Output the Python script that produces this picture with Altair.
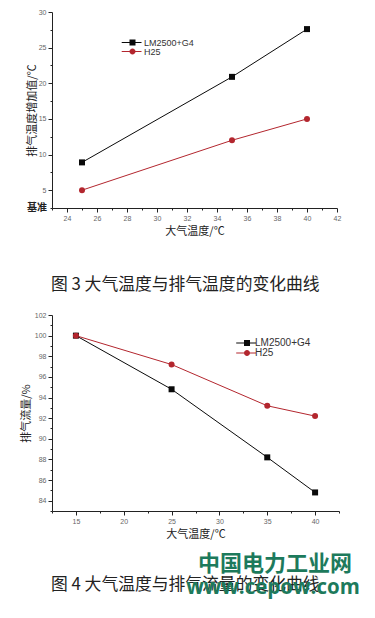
import altair as alt
import pandas as pd

# ---------------- data ----------------
series = ["LM2500+G4", "H25"]
colors = ["#0a0a0a", "#b3262e"]
shapes = ["square", "circle"]

# Fig. 3: exhaust temperature increase vs ambient temperature
f3_temp = [25, 35, 40]
f3_lm = [8.9, 20.9, 27.6]
f3_h25 = [5.0, 12.0, 15.0]
f3_xticks = [23, 24, 25, 26, 27, 28, 29, 30, 31, 32, 33, 34, 35, 36, 37, 38, 39, 40, 41, 42]
f3_yticks = [2.5, 5, 7.5, 10, 12.5, 15, 17.5, 20, 22.5, 25, 27.5, 30]

# Fig. 4: exhaust flow vs ambient temperature
f4_temp = [15, 25, 35, 40]
f4_lm = [100.0, 94.8, 88.2, 84.8]
f4_h25 = [100.0, 97.2, 93.2, 92.2]
f4_xticks = [12.5, 15, 17.5, 20, 22.5, 25, 27.5, 30, 32.5, 35, 37.5, 40, 42.5]
f4_yticks = [83, 84, 85, 86, 87, 88, 89, 90, 91, 92, 93, 94, 95, 96, 97, 98, 99, 100, 101, 102]

# legend glyphs: a thin filled bar (the line) plus the marker
legend_paths = [
    "M-3.6,-0.17H3V0.17H-3.6ZM-1,-1H1V1H-1Z",
    "M-3.6,-0.17H3V0.17H-3.6ZM1,0A1,1 0 1 1 -1,0A1,1 0 1 1 1,0Z",
]

captions = ["图 3 大气温度与排气温度的变化曲线", "图 4 大气温度与排气流量的变化曲线"]
watermark = ["中国电力工业网", "www.cepow.com"]

CJK = "Noto Sans CJK SC"
LAT = "Liberation Sans"


def long_df(temps, a, b):
    return pd.DataFrame({
        "t": temps * 2,
        "v": a + b,
        "s": [series[0]] * len(temps) + [series[1]] * len(temps),
    })


def axis(values, mod, title, tpad, **kw):
    return alt.Axis(
        values=values,
        labelExpr=f"datum.value % {mod} === 0 ? datum.label : ''",
        tickSize={"condition": {"test": f"datum.value % {mod} === 0", "value": 4}, "value": 2},
        title=title, titlePadding=tpad, grid=False,
        domainColor="#222", domainWidth=1, tickColor="#222", tickWidth=1,
        labelColor="#666", labelFontSize=7, labelFont=LAT, labelPadding=2,
        labelOverlap=False, labelFlush=False,
        titleFont=CJK, titleFontSize=11, titleFontWeight="normal", titleColor="#222",
        **kw,
    )


def panel(df, xdom, xticks, xmod, ydom, yticks, ymod, ytitle, ytpad,
          legx, legy, legfs, rowgap, laboff):
    x = alt.X("t:Q", scale=alt.Scale(domain=xdom, nice=False, zero=False),
              axis=axis(xticks, xmod, "大气温度/℃", 4))
    y = alt.Y("v:Q", scale=alt.Scale(domain=ydom, nice=False, zero=False),
              axis=axis(yticks, ymod, ytitle, ytpad))
    col = alt.Color("s:N", scale=alt.Scale(domain=series, range=colors), legend=None)

    line = alt.Chart(df).mark_line(strokeWidth=1).encode(x=x, y=y, color=col)
    pts = alt.Chart(df).mark_point(filled=True, opacity=1, size=36).encode(
        x=x, y=y, color=col,
        shape=alt.Shape("s:N", scale=alt.Scale(domain=series, range=shapes), legend=None),
    )
    layers = [line, pts]
    for i, name in enumerate(series):
        leg = alt.Legend(orient="none", legendX=legx, legendY=legy + i * rowgap, title=None,
                         symbolSize=36, symbolStrokeWidth=0,
                         symbolFillColor=colors[i], symbolStrokeColor=colors[i],
                         labelFont=LAT, labelFontSize=legfs, labelColor="#333",
                         labelOffset=laboff, rowPadding=0, padding=0)
        layers.append(
            alt.Chart(df).transform_filter(alt.datum.s == name).transform_filter("false")
            .mark_point(filled=True, opacity=1, color=colors[i])
            .encode(shape=alt.Shape("s:N", scale=alt.Scale(domain=[name], range=[legend_paths[i]]),
                                    legend=leg))
        )
    return layers, x, y


# ---- figure 3 ----
df3 = long_df(f3_temp, f3_lm, f3_h25)
l3, x3, y3 = panel(df3, [23, 42], f3_xticks, 2, [2.5, 30], f3_yticks, 5,
                   "排气温度增加值/℃", 1, 76, 26, 9, 9, 7)
base_df = pd.DataFrame({"t": [23], "v": [2.5], "lbl": ["基准"]})
base_lbl = alt.Chart(base_df).mark_text(
    align="right", baseline="middle", dx=-5, font=CJK, fontSize=10, fontWeight="bold",
    color="#222").encode(x=x3, y=y3, text="lbl:N")
chart3 = alt.layer(*l3, base_lbl).resolve_scale(shape="independent").properties(
    width=285, height=196,
    title=alt.Title(captions[0], orient="bottom", anchor="start",
                    frame="group", dx=-1, offset=41, font=CJK, fontSize=16.8,
                    fontWeight="normal", color="#222"),
)

# ---- figure 4 ----
df4 = long_df(f4_temp, f4_lm, f4_h25)
l4, x4, y4 = panel(df4, [12.5, 42.5], f4_xticks, 5, [83, 102], f4_yticks, 2,
                   "排气流量/%", 3, 190, 23, 10, 10, 3)
txt = pd.DataFrame({"cap": [captions[1]], "w1": [watermark[0]], "w2": [watermark[1]]})
cap4 = alt.Chart(txt).mark_text(font=CJK, fontSize=16.8, color="#222", align="left",
                                baseline="middle").encode(
    text="cap:N", x=alt.value(-1), y=alt.value(270))
wm1 = alt.Chart(txt).mark_text(font=CJK, fontSize=22, fontWeight="bold", color="#1d7a5c",
                               align="center", baseline="middle").encode(
    text="w1:N", x=alt.value(223), y=alt.value(249))
wm2 = alt.Chart(txt).mark_text(font="Open Sans", fontSize=20.5, fontWeight="bold", color="#1d7a5c",
                               align="center", baseline="middle").encode(
    text="w2:N", x=alt.value(221), y=alt.value(273))
chart4 = alt.layer(*l4, cap4, wm1, wm2).resolve_scale(shape="independent").properties(
    width=287, height=196,
)

chart = alt.vconcat(chart3, chart4, spacing=17).properties(
    padding={"left": 12, "top": 0, "right": 3, "bottom": 3},
    background="white",
).configure_view(stroke=None)

chart.save("out.html", embed_options={"renderer": "svg", "actions": False})
